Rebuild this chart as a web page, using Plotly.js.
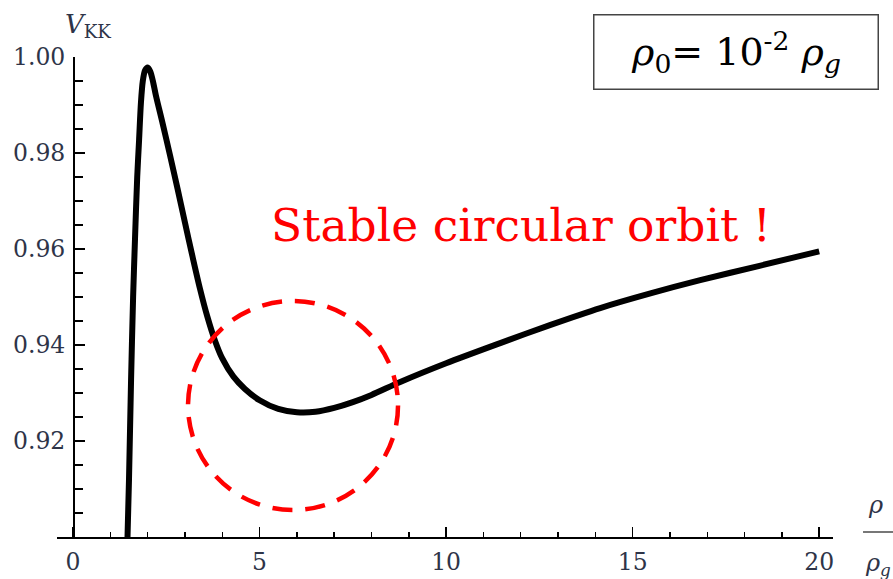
<!DOCTYPE html>
<html>
<head>
<meta charset="utf-8">
<script src="https://cdn.plot.ly/plotly-3.0.1.min.js"></script>
<style>html,body{margin:0;padding:0;background:#fff;}#chart{width:893px;height:579px;}</style>
</head>
<body>
<div id="chart"></div>
<script>
// Curve V_KK(rho/rho_g)
const rhoRatio = [1.46, 1.50, 1.555, 1.61, 1.66, 1.72, 1.77, 1.82, 1.87, 1.93, 2.00, 2.07, 2.14, 2.22, 2.40, 2.60, 2.80, 3.00, 3.20, 3.40, 3.60, 3.80, 4.00, 4.30, 4.60, 5.00, 5.50, 6.00, 6.50, 7.00, 7.50, 8.00, 8.77, 10.0, 11.45, 12.8, 14.13, 15.5, 16.81, 18.4, 20.0];
const vKK      = [0.900, 0.912, 0.9327, 0.950, 0.9619, 0.975, 0.9827, 0.9905, 0.9950, 0.9972, 0.9978, 0.9970, 0.9950, 0.9920, 0.9862, 0.9795, 0.9726, 0.9655, 0.9585, 0.9518, 0.9459, 0.9410, 0.9372, 0.9334, 0.9309, 0.9285, 0.9267, 0.9260, 0.9261, 0.9269, 0.9281, 0.9296, 0.9323, 0.9362, 0.9404, 0.9442, 0.9477, 0.9508, 0.9535, 0.9565, 0.9595];

const xTickVals = [0, 5, 10, 15, 20];
const xTickText = ['0', '5', '10', '15', '20'];
const yTickVals = [0.92, 0.94, 0.96, 0.98, 1.00];
const yTickText = ['0.92', '0.94', '0.96', '0.98', '1.00'];

const SERIF = 'DejaVu Serif';
const tickFont = {family: SERIF, size: 23.5, color: '#2e3448'};

const trace = {
  x: rhoRatio, y: vKK, type: 'scatter', mode: 'lines',
  line: {color: '#000', width: 6, shape: 'spline', smoothing: 0.8},
  hoverinfo: 'skip', cliponaxis: true
};

const layout = {
  width: 893, height: 579,
  margin: {l: 57, r: 60, t: 57, b: 42},
  paper_bgcolor: '#fff', plot_bgcolor: '#fff',
  font: {family: SERIF},
  showlegend: false,
  xaxis: {
    range: [-0.43, 20.37], showgrid: false, zeroline: false,
    showline: true, linecolor: '#000', linewidth: 1.5,
    ticks: 'inside', ticklen: 10, tickwidth: 1.5, tickcolor: '#000',
    tickvals: xTickVals, ticktext: xTickText, tickfont: tickFont,
    ticklabelstandoff: 3,
    minor: {dtick: 1, tick0: 0, ticks: 'inside', ticklen: 5, tickwidth: 1.5, tickcolor: '#000', showgrid: false}
  },
  yaxis: {
    range: [0.9, 1.0], showgrid: false, zeroline: false,
    anchor: 'free', position: 16/776,
    showline: true, linecolor: '#000', linewidth: 1.5,
    ticks: 'inside', ticklen: 10, tickwidth: 1.5, tickcolor: '#000',
    tickvals: yTickVals, ticktext: yTickText, tickfont: tickFont,
    ticklabelstandoff: 3,
    minor: {dtick: 0.005, tick0: 0.9, ticks: 'inside', ticklen: 8, tickwidth: 1.5, tickcolor: '#000', showgrid: false}
  },
  shapes: [
    {type: 'circle', xref: 'x', yref: 'y', x0: 3.082, x1: 8.711, y0: 0.90563, y1: 0.94917,
     line: {color: '#ff0000', width: 4.5, dash: '20px,13px'}},
    {type: 'line', xref: 'paper', yref: 'paper', x0: 1.0387, x1: 1.09, y0: 0.0104, y1: 0.0104,
     line: {color: '#777', width: 2}}
  ],
  annotations: [
    {xref: 'paper', yref: 'paper', x: 0.273, y: 0.65, xanchor: 'left', yanchor: 'middle',
     text: 'Stable circular orbit !', showarrow: false,
     font: {family: SERIF, size: 45.5, color: '#ff0000'}},
    {xref: 'paper', yref: 'paper', x: 0.8744, y: 1.0094, xanchor: 'center', yanchor: 'middle',
     text: '<i>ρ</i><sub>0</sub>= 10<sup>-2</sup> <i>ρ</i><sub><i>g</i></sub>', showarrow: false,
     width: 281, height: 71, align: 'center', valign: 'middle',
     bordercolor: '#444', borderwidth: 1.5, borderpad: 1,
     font: {family: SERIF, size: 38, color: '#000'}},
    {xref: 'paper', yref: 'paper', x: 0.0077, y: 1.066, xanchor: 'left', yanchor: 'middle',
     text: '<i>V</i><sub>KK</sub>', showarrow: false,
     font: {family: SERIF, size: 26, color: '#2e3448'}},
    {xref: 'paper', yref: 'paper', x: 1.0425, y: 0.0667, xanchor: 'left', yanchor: 'middle',
     text: '<i>ρ</i>', showarrow: false,
     font: {family: SERIF, size: 24, color: '#2e3448'}},
    {xref: 'paper', yref: 'paper', x: 1.0387, y: -0.058, xanchor: 'left', yanchor: 'middle',
     text: '<i>ρ</i><sub><i>g</i></sub>', showarrow: false,
     font: {family: SERIF, size: 24, color: '#2e3448'}}
  ]
};

Plotly.newPlot('chart', [trace], layout, {displayModeBar: false, staticPlot: true});
</script>
</body>
</html>
